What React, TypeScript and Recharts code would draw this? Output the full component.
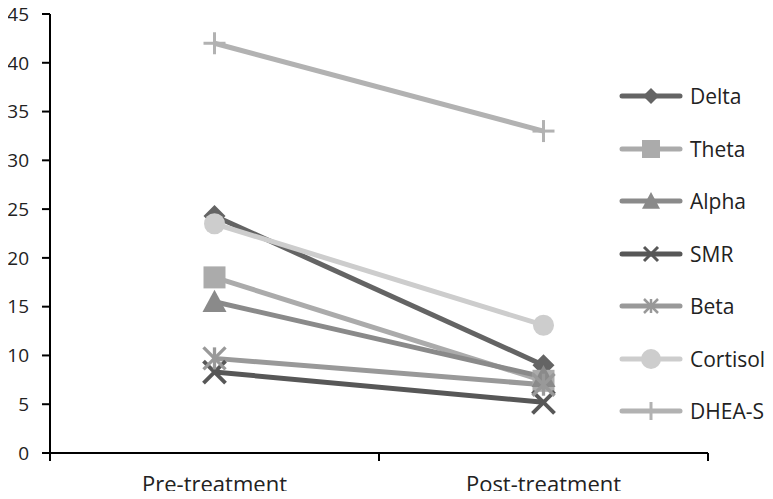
import { Line, LineChart, XAxis, YAxis } from "recharts";

const stages = ["Pre-treatment", "Post-treatment"];
const delta = [24.3, 9.0];
const theta = [18.0, 7.4];
const alpha = [15.5, 7.8];
const smr = [8.3, 5.2];
const beta = [9.7, 7.0];
const cortisol = [23.5, 13.1];
const dheas = [42.0, 33.0];
const yTicks = [0, 5, 10, 15, 20, 25, 30, 35, 40, 45];

type Shape = "diamond" | "square" | "triangle" | "x" | "star" | "circle" | "plus";

const series: { key: string; values: number[]; color: string; shape: Shape }[] = [
  { key: "Delta", values: delta, color: "#646464", shape: "diamond" },
  { key: "Theta", values: theta, color: "#ababab", shape: "square" },
  { key: "Alpha", values: alpha, color: "#8a8a8a", shape: "triangle" },
  { key: "SMR", values: smr, color: "#575757", shape: "x" },
  { key: "Beta", values: beta, color: "#999999", shape: "star" },
  { key: "Cortisol", values: cortisol, color: "#cdcdcd", shape: "circle" },
  { key: "DHEA-S", values: dheas, color: "#b2b2b2", shape: "plus" },
];

const data = stages.map((stage, i) => {
  const row: Record<string, number | string> = { x: i + 0.5, stage };
  series.forEach((s) => (row[s.key] = s.values[i]));
  return row;
});

const FONT = "'Open Sans', sans-serif";

function Marker({ cx, cy, shape, color, r }: { cx: number; cy: number; shape: Shape; color: string; r: number }) {
  switch (shape) {
    case "diamond":
      return <polygon points={`${cx},${cy - r} ${cx + r},${cy} ${cx},${cy + r} ${cx - r},${cy}`} fill={color} />;
    case "square":
      return <rect x={cx - r} y={cy - r} width={2 * r} height={2 * r} fill={color} />;
    case "triangle":
      return <polygon points={`${cx},${cy - r} ${cx + r},${cy + r * 0.85} ${cx - r},${cy + r * 0.85}`} fill={color} />;
    case "x":
      return (
        <g stroke={color} strokeWidth={Math.max(3, r * 0.35)}>
          <line x1={cx - r} y1={cy - r} x2={cx + r} y2={cy + r} />
          <line x1={cx - r} y1={cy + r} x2={cx + r} y2={cy - r} />
        </g>
      );
    case "star":
      return (
        <g stroke={color} strokeWidth={Math.max(2.5, r * 0.3)}>
          <line x1={cx - r} y1={cy - r} x2={cx + r} y2={cy + r} />
          <line x1={cx - r} y1={cy + r} x2={cx + r} y2={cy - r} />
          <line x1={cx} y1={cy - r} x2={cx} y2={cy + r} />
        </g>
      );
    case "circle":
      return <circle cx={cx} cy={cy} r={r} fill={color} />;
    case "plus":
      return (
        <g stroke={color} strokeWidth={3}>
          <line x1={cx - r} y1={cy} x2={cx + r} y2={cy} />
          <line x1={cx} y1={cy - r} x2={cx} y2={cy + r} />
        </g>
      );
  }
}

const dotSize: Record<Shape, number> = {
  diamond: 11,
  square: 11,
  triangle: 12,
  x: 11,
  star: 11,
  circle: 10.5,
  plus: 11,
};

const legendSize: Record<Shape, number> = {
  diamond: 8,
  square: 9,
  triangle: 9,
  x: 7,
  star: 7,
  circle: 10,
  plus: 9,
};

// axis sits at y; integer ticks are category boundaries, halves carry labels
function XTick(props: any) {
  const { x, y, payload } = props;
  const v = payload.value as number;
  if (Number.isInteger(v)) {
    return <line x1={x} y1={y} x2={x} y2={y + 8} stroke="#000" strokeWidth={2} />;
  }
  return (
    <text x={x} y={y + 39} textAnchor="middle" fontSize={22} fontFamily={FONT} fill="#222">
      {stages[Math.floor(v)]}
    </text>
  );
}

export default function App() {
  return (
    <div style={{ position: "relative", width: 773, height: 499, margin: -8, background: "#fff" }}>
      <LineChart width={773} height={499} data={data} margin={{ top: 14, right: 65, bottom: 0, left: 0 }}>
        <XAxis
          dataKey="x"
          type="number"
          domain={[0, 2]}
          ticks={[0, 0.5, 1, 1.5, 2]}
          tick={<XTick />}
          tickLine={false}
          tickSize={0}
          tickMargin={0}
          axisLine={{ stroke: "#000", strokeWidth: 2 }}
          height={46}
          interval={0}
        />
        <YAxis
          domain={[0, 45]}
          ticks={yTicks}
          width={50}
          tickSize={8}
          tickMargin={13}
          axisLine={{ stroke: "#000", strokeWidth: 2 }}
          tickLine={{ stroke: "#000", strokeWidth: 2 }}
          tick={{ fill: "#222", fontSize: 19, fontFamily: FONT }}
        />
        {series.map((s) => (
          <Line
            key={s.key}
            dataKey={s.key}
            stroke={s.color}
            strokeWidth={5}
            isAnimationActive={false}
            dot={(p: any) => <Marker key={`${s.key}-${p.index}`} cx={p.cx} cy={p.cy} shape={s.shape} color={s.color} r={dotSize[s.shape]} />}
            activeDot={false}
          />
        ))}
      </LineChart>
      <div style={{ position: "absolute", left: 618, top: 70, fontFamily: FONT, fontSize: 21, color: "#222" }}>
        {series.map((s) => (
          <div key={s.key} style={{ display: "flex", alignItems: "center", height: 52.5 }}>
            <svg width={70} height={28}>
              <line x1={4} y1={14} x2={62} y2={14} stroke={s.color} strokeWidth={5} strokeLinecap="round" />
              <Marker cx={33} cy={14} shape={s.shape} color={s.color} r={legendSize[s.shape]} />
            </svg>
            <span style={{ marginLeft: 2 }}>{s.key}</span>
          </div>
        ))}
      </div>
    </div>
  );
}
